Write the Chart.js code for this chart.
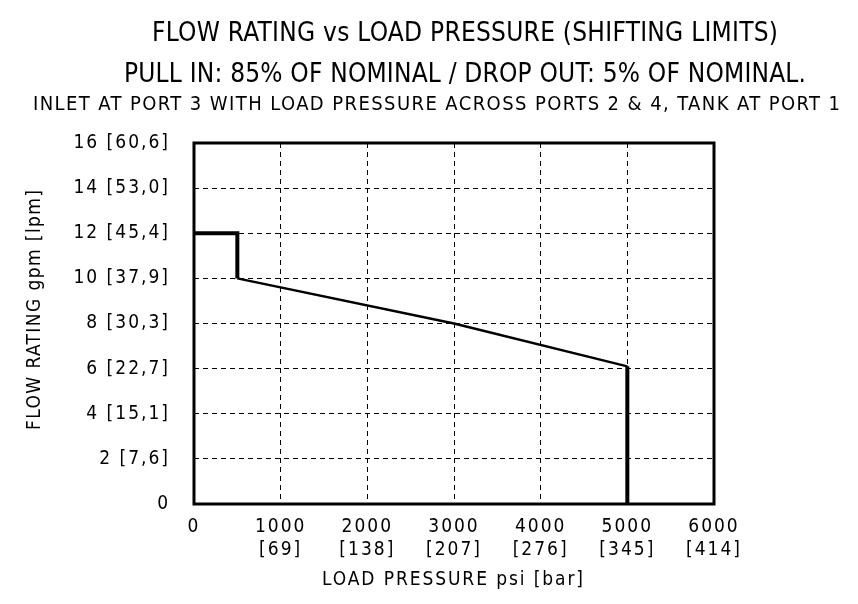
<!DOCTYPE html>
<html>
<head>
<meta charset="utf-8">
<script src="https://cdn.jsdelivr.net/npm/chart.js@4.4.1/dist/chart.umd.min.js"></script>
<style>
html,body{margin:0;padding:0;background:#fff;}
#wrap{width:858px;height:604px;position:relative;}
</style>
</head>
<body>
<div id="wrap"><canvas id="c" width="858" height="604"></canvas></div>
<script>
// ---- data ----
const pressurePsi = [0, 500, 500, 3000, 5000, 5000];
const flowGpm     = [12, 12, 10, 8, 6.1, 0];
const thickSegments = [0, 1, 4];

const xTickValues = [0, 1000, 2000, 3000, 4000, 5000, 6000];
const xTickBar    = ['', '[69]', '[138]', '[207]', '[276]', '[345]', '[414]'];
const yTickValues = [0, 2, 4, 6, 8, 10, 12, 14, 16];
const yTickLpm    = ['', '[7,6]', '[15,1]', '[22,7]', '[30,3]', '[37,9]', '[45,4]', '[53,0]', '[60,6]'];

const titleLines = [
  'FLOW RATING vs LOAD PRESSURE (SHIFTING LIMITS)',
  'PULL IN: 85% OF NOMINAL / DROP OUT: 5% OF NOMINAL.',
  'INLET AT PORT 3 WITH LOAD PRESSURE ACROSS PORTS 2 & 4, TANK AT PORT 1'
];
const xAxisTitle = 'LOAD PRESSURE psi [bar]';
const yAxisTitle = 'FLOW RATING gpm [lpm]';

const FONT = "'Liberation Sans Narrow', 'DejaVu Sans Condensed', 'Roboto Condensed', sans-serif";

function fitText(ctx, text, left, right, y, size) {
  ctx.save();
  ctx.font = size + 'px ' + FONT;
  ctx.letterSpacing = '0px';
  const w = ctx.measureText(text).width;
  const sp = (right - left - w) / (text.length - 1);
  ctx.letterSpacing = sp + 'px';
  ctx.fillStyle = '#000';
  ctx.textAlign = 'left';
  ctx.textBaseline = 'middle';
  ctx.fillText(text, left, y);
  ctx.restore();
}

const decor = {
  id: 'decor',
  beforeDraw(chart) {
    chart.ctx.letterSpacing = '2px';
  },
  afterDraw(chart) {
    const ctx = chart.ctx;
    const a = chart.chartArea;
    // frame
    ctx.save();
    ctx.letterSpacing = '0px';
    ctx.strokeStyle = '#000';
    ctx.lineWidth = 3;
    ctx.strokeRect(a.left, a.top, a.right - a.left, a.bottom - a.top);
    ctx.restore();
    // titles
    fitText(ctx, titleLines[0], 152, 778, 34, 26);
    fitText(ctx, titleLines[1], 124, 806, 75, 26);
    fitText(ctx, titleLines[2], 33, 840, 105, 20);
    fitText(ctx, xAxisTitle, 322, 583, 580, 19);
    ctx.save();
    ctx.translate(35, 430);
    ctx.rotate(-Math.PI / 2);
    fitText(ctx, yAxisTitle, 0, 240, 0, 19);
    ctx.restore();
  }
};

new Chart(document.getElementById('c'), {
  type: 'line',
  data: {
    datasets: [{
      data: pressurePsi.map((p, i) => ({x: p, y: flowGpm[i]})),
      borderColor: '#000',
      borderWidth: 2.5,
      pointRadius: 0,
      tension: 0,
      fill: false,
      clip: 4,
      segment: {
        borderWidth: c => thickSegments.includes(c.p0DataIndex) ? 4 : 2.5
      }
    }]
  },
  options: {
    responsive: false,
    animation: false,
    devicePixelRatio: 1,
    layout: { padding: { left: 0, right: 144, top: 143, bottom: 0 } },
    plugins: { legend: { display: false }, tooltip: { enabled: false }, title: { display: false } },
    scales: {
      x: {
        type: 'linear',
        min: 0, max: 6000,
        afterBuildTicks: s => { s.ticks = xTickValues.map(v => ({value: v})); },
        afterFit: s => { s.height = 100; },
        grid: { color: '#000', lineWidth: 1, drawTicks: false },
        border: { display: false, dash: [5, 4] },
        ticks: {
          color: '#000',
          padding: 12,
          maxRotation: 0,
          autoSkip: false,
          font: { family: FONT, size: 19, lineHeight: 1.2 },
          callback: (v, i) => xTickBar[i] ? [String(v), xTickBar[i]] : String(v)
        }
      },
      y: {
        type: 'linear',
        min: 0, max: 16,
        afterBuildTicks: s => { s.ticks = yTickValues.map(v => ({value: v})); },
        afterFit: s => { s.width = 194; },
        grid: { color: '#000', lineWidth: 1, drawTicks: false },
        border: { display: false, dash: [5, 4] },
        ticks: {
          color: '#000',
          padding: 24,
          autoSkip: false,
          font: { family: FONT, size: 19 },
          callback: (v, i) => yTickLpm[i] ? v + ' ' + yTickLpm[i] : String(v)
        }
      }
    }
  },
  plugins: [decor]
});
</script>
</body>
</html>
